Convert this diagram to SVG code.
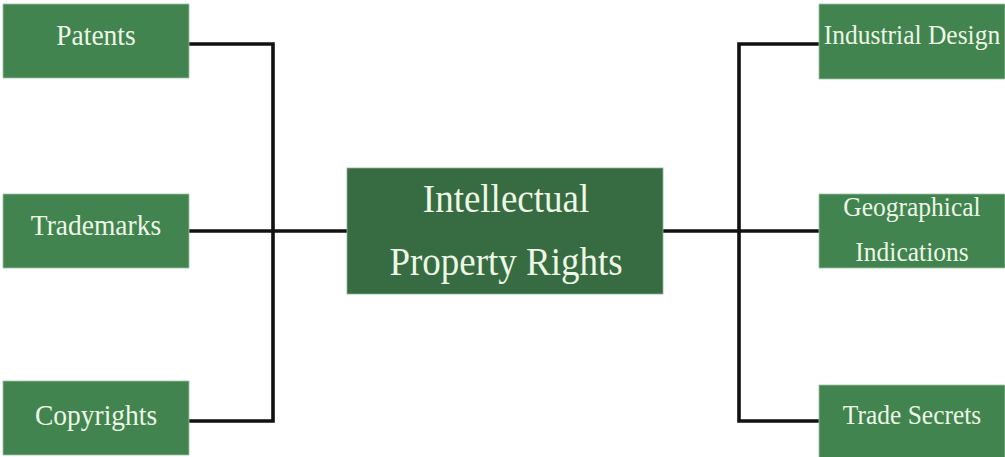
<svg xmlns="http://www.w3.org/2000/svg" width="1005" height="457" viewBox="0 0 1005 457">
  <style>
    .box { fill: #41844f; stroke: #9fc0a4; stroke-width: 0.8; }
    .hub { fill: #376b41; stroke: #8fb096; stroke-width: 0.8; }
    .lbl { font-family: "Liberation Serif", "Times New Roman", serif; fill: #edf7e6; text-anchor: middle; }
    .sm { font-size: 27.5px; }
    .rs { font-size: 25.5px; }
    .big { font-size: 37px; }
    .wire { stroke: #111; stroke-width: 3.6; fill: none; }
  </style>
  <rect width="1005" height="457" fill="#ffffff"/>

  <!-- connectors -->
  <g id="connectors">
    <path class="wire" d="M189 44 H273 V421 H189"/>
    <path class="wire" d="M189 231 H347"/>
    <path class="wire" d="M819 44 H739 V421 H819"/>
    <path class="wire" d="M663 231 H819"/>
  </g>

  <!-- left branch -->
  <g id="patents">
    <rect class="box" x="3" y="4" width="186" height="74"/>
    <text class="lbl sm" transform="translate(96,45) scale(1,1.1)">Patents</text>
  </g>
  <g id="trademarks">
    <rect class="box" x="3" y="194" width="186" height="74"/>
    <text class="lbl sm" transform="translate(96,235) scale(1,1.1)">Trademarks</text>
  </g>
  <g id="copyrights">
    <rect class="box" x="3" y="381" width="186" height="74"/>
    <text class="lbl sm" transform="translate(96,425) scale(1,1.1)">Copyrights</text>
  </g>

  <!-- centre -->
  <g id="ipr">
    <rect class="hub" x="347" y="168" width="316" height="126"/>
    <text class="lbl big" transform="translate(506,212) scale(1,1.1)">Intellectual</text>
    <text class="lbl big" transform="translate(506,275) scale(1,1.1)">Property Rights</text>
  </g>

  <!-- right branch -->
  <g id="industrial-design">
    <rect class="box" x="819" y="4" width="186" height="75"/>
    <text class="lbl rs" transform="translate(912,44) scale(1,1.1)">Industrial Design</text>
  </g>
  <g id="geographical-indications">
    <rect class="box" x="819" y="194" width="186" height="74"/>
    <text class="lbl rs" transform="translate(912,216) scale(1,1.1)">Geographical</text>
    <text class="lbl rs" transform="translate(912,261) scale(1,1.1)">Indications</text>
  </g>
  <g id="trade-secrets">
    <rect class="box" x="819" y="385" width="186" height="74"/>
    <text class="lbl rs" transform="translate(912,424) scale(1,1.1)">Trade Secrets</text>
  </g>
</svg>
